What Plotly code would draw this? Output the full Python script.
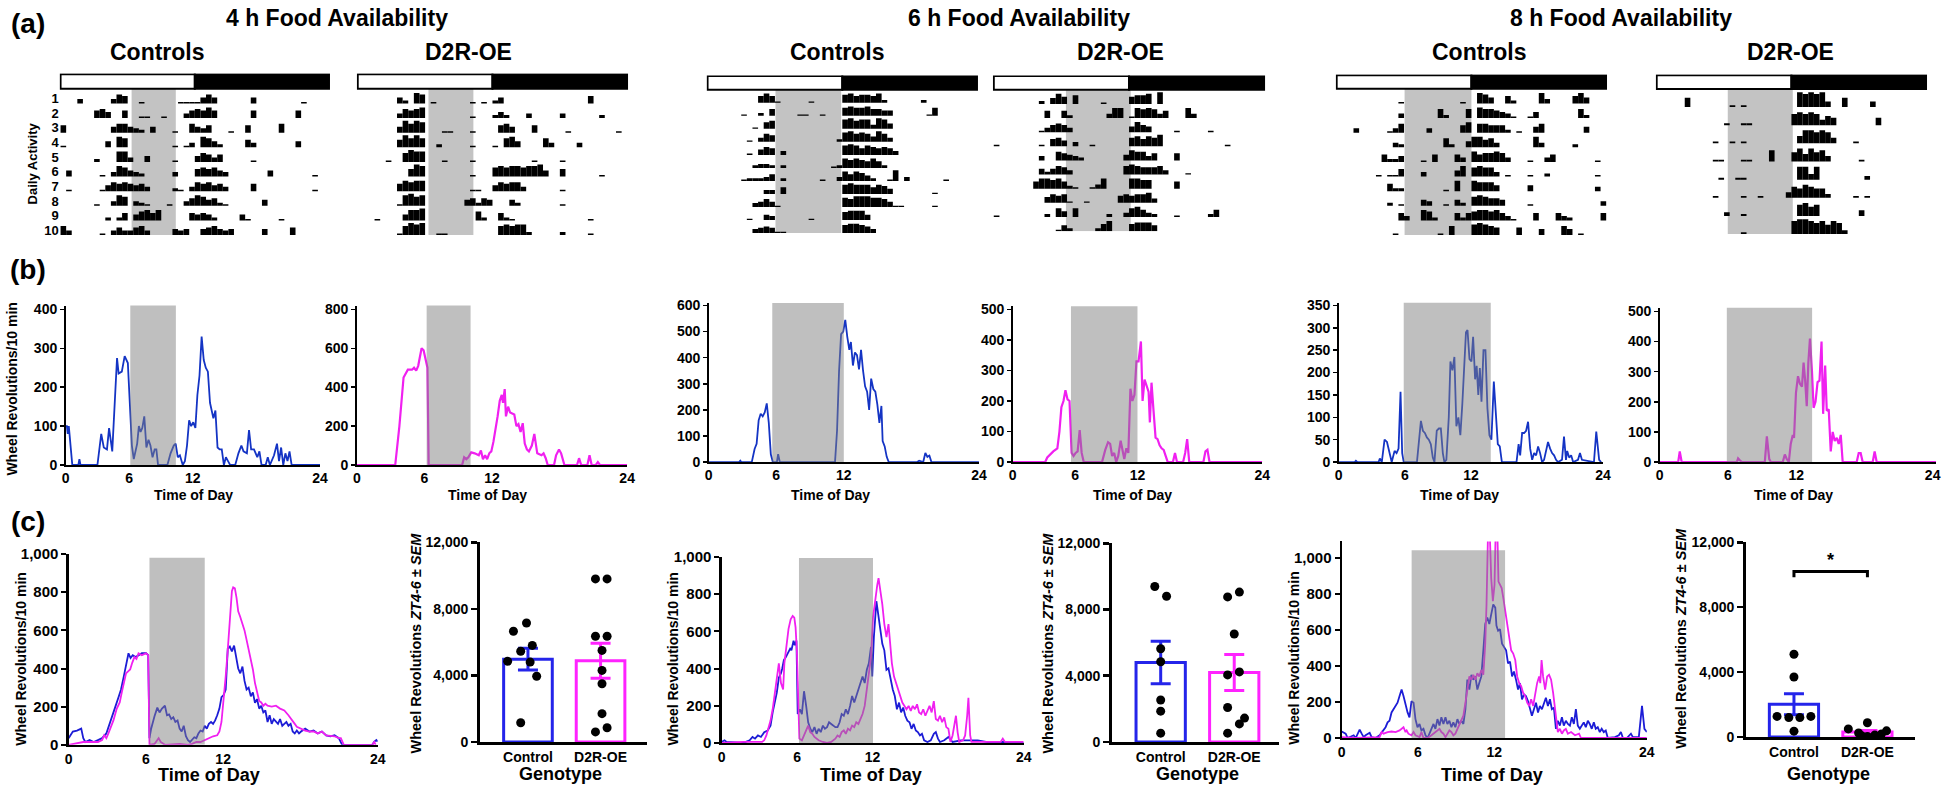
import math
import statistics
import plotly.graph_objects as go

# ======================= DATA =======================
# (a) actograms: one dict per day, {half-hour bin (0-47): activity level 1-9}
ACTO_4H_CTRL = [
    {3: 3, 9: 3, 10: 6, 11: 5, 14: 1, 21: 1, 22: 1, 23: 1, 24: 1, 25: 4, 26: 6, 27: 4, 34: 4, 43: 1},
    {6: 5, 7: 6, 8: 4, 11: 5, 14: 1, 15: 1, 18: 1, 22: 3, 23: 5, 24: 6, 25: 5, 26: 7, 27: 5, 34: 5, 42: 5},
    {0: 5, 9: 4, 10: 6, 11: 6, 12: 4, 13: 3, 14: 2, 16: 4, 20: 1, 23: 6, 24: 4, 25: 3, 26: 5, 30: 1, 33: 5, 39: 6},
    {0: 1, 8: 4, 10: 7, 11: 6, 20: 1, 22: 1, 23: 3, 25: 7, 26: 6, 27: 4, 28: 2, 33: 5, 34: 3, 42: 4},
    {6: 2, 10: 7, 11: 7, 12: 3, 15: 4, 20: 1, 24: 4, 25: 6, 26: 5, 27: 3, 28: 5, 34: 1},
    {1: 4, 7: 1, 9: 3, 10: 7, 11: 6, 12: 4, 13: 3, 14: 2, 20: 3, 24: 5, 25: 6, 26: 5, 27: 6, 28: 4, 29: 3, 37: 4, 45: 1},
    {1: 1, 7: 1, 8: 4, 9: 6, 10: 5, 11: 6, 12: 5, 13: 4, 14: 5, 15: 3, 20: 2, 21: 1, 23: 3, 24: 6, 25: 5, 26: 6,
     27: 4, 28: 5, 29: 3, 34: 5, 45: 1},
    {6: 1, 9: 3, 10: 7, 11: 6, 13: 3, 14: 2, 15: 1, 19: 1, 22: 3, 23: 5, 24: 7, 25: 6, 26: 4, 27: 5, 28: 2, 29: 1, 36: 4},
    {8: 2, 10: 2, 11: 5, 13: 4, 14: 6, 15: 7, 16: 5, 17: 7, 23: 5, 24: 4, 25: 5, 26: 4, 27: 2, 32: 4, 33: 1, 39: 1},
    {0: 6, 1: 3, 7: 1, 9: 3, 10: 5, 11: 3, 12: 3, 13: 5, 14: 6, 15: 3, 20: 4, 21: 3, 22: 4, 25: 4, 26: 5, 27: 6,
     28: 4, 29: 3, 30: 4, 36: 4, 41: 5},
]
ACTO_4H_D2R = [
    {7: 4, 8: 2, 10: 7, 11: 6, 13: 1, 20: 1, 22: 1, 24: 2, 25: 4, 41: 5},
    {7: 3, 8: 6, 9: 5, 10: 6, 11: 7, 20: 1, 24: 2, 25: 4, 26: 2, 30: 3, 36: 3, 43: 2},
    {7: 4, 8: 8, 9: 6, 10: 8, 11: 7, 15: 1, 16: 1, 20: 1, 25: 5, 26: 6, 27: 4, 31: 5, 37: 1, 46: 1},
    {7: 5, 8: 8, 9: 6, 10: 8, 11: 6, 14: 2, 20: 1, 24: 1, 26: 6, 27: 7, 28: 4, 33: 6, 34: 3, 39: 3},
    {5: 1, 8: 6, 9: 8, 10: 7, 11: 7, 15: 1, 20: 1, 31: 1, 36: 1},
    {9: 5, 10: 8, 11: 7, 20: 1, 24: 6, 25: 7, 26: 6, 27: 7, 28: 7, 29: 6, 30: 7, 31: 7, 32: 8, 33: 4, 36: 5, 43: 1},
    {7: 5, 8: 7, 9: 6, 10: 7, 11: 7, 20: 1, 21: 1, 24: 4, 25: 6, 26: 5, 27: 6, 28: 6, 29: 3, 36: 1},
    {7: 1, 8: 7, 9: 8, 10: 6, 11: 7, 19: 4, 20: 5, 21: 2, 22: 5, 23: 4, 27: 4, 28: 2, 36: 1},
    {3: 1, 8: 4, 9: 7, 10: 7, 11: 8, 21: 6, 22: 2, 25: 5, 26: 2, 27: 1, 41: 1},
    {7: 1, 8: 6, 9: 8, 10: 7, 11: 8, 14: 1, 15: 1, 25: 6, 26: 7, 27: 6, 28: 7, 29: 7, 30: 2, 36: 2, 41: 1},
]
ACTO_6H_CTRL = [
    {9: 5, 10: 7, 11: 5, 12: 1, 18: 1, 24: 6, 25: 7, 26: 5, 27: 6, 28: 6, 29: 5, 30: 7, 31: 2, 38: 2},
    {6: 1, 9: 2, 11: 5, 16: 1, 17: 1, 20: 1, 24: 6, 25: 7, 26: 6, 27: 6, 28: 7, 29: 5, 30: 5, 31: 4, 32: 4, 39: 1, 40: 6},
    {8: 1, 10: 5, 11: 6, 24: 7, 25: 8, 26: 6, 27: 7, 28: 7, 29: 3, 30: 8, 31: 7, 32: 4},
    {7: 1, 9: 3, 10: 6, 11: 5, 23: 2, 24: 7, 25: 8, 26: 6, 27: 7, 28: 6, 29: 4, 30: 8, 31: 6, 32: 3},
    {7: 1, 9: 4, 10: 6, 11: 5, 13: 3, 24: 7, 25: 8, 26: 7, 27: 5, 28: 7, 29: 6, 30: 5, 31: 6, 32: 5, 33: 3},
    {8: 2, 9: 3, 10: 3, 11: 2, 13: 2, 22: 1, 23: 2, 24: 7, 25: 6, 26: 7, 27: 6, 28: 5, 29: 7, 30: 5, 31: 2},
    {6: 1, 7: 2, 8: 2, 9: 2, 10: 3, 11: 5, 13: 2, 20: 1, 23: 3, 24: 7, 25: 5, 26: 7, 27: 6, 28: 4, 29: 2, 32: 1,
     33: 8, 35: 3, 42: 1},
    {10: 3, 11: 3, 13: 5, 24: 7, 25: 8, 26: 7, 27: 7, 28: 7, 29: 5, 30: 7, 31: 6, 32: 4, 40: 1},
    {8: 3, 9: 4, 10: 6, 11: 4, 12: 1, 24: 7, 25: 6, 26: 8, 27: 8, 28: 8, 29: 7, 30: 7, 31: 6, 32: 4, 33: 1, 34: 1, 40: 1},
    {7: 1, 10: 4, 11: 3, 18: 1, 24: 6, 25: 7, 26: 7, 27: 7, 28: 4},
    {8: 3, 9: 4, 10: 5, 11: 4, 12: 1, 13: 1, 24: 6, 25: 7, 26: 7, 27: 6, 28: 5, 29: 3},
]
ACTO_6H_D2R = [
    {8: 2, 10: 4, 11: 7, 12: 5, 14: 6, 19: 1, 24: 5, 25: 6, 26: 6, 27: 7, 29: 8},
    {9: 5, 12: 5, 13: 2, 20: 3, 21: 7, 22: 7, 24: 1, 25: 7, 26: 6, 27: 7, 28: 6, 29: 3, 30: 5, 34: 7, 35: 3},
    {8: 1, 9: 3, 10: 5, 11: 6, 12: 5, 13: 3, 24: 4, 25: 7, 26: 5, 27: 4, 32: 1, 38: 1},
    {0: 1, 8: 1, 10: 5, 11: 6, 12: 4, 14: 3, 17: 1, 24: 6, 25: 7, 26: 5, 27: 7, 28: 6, 29: 8, 41: 1},
    {8: 3, 11: 6, 12: 5, 13: 4, 14: 3, 15: 2, 23: 4, 24: 7, 25: 6, 26: 6, 27: 3, 28: 5, 32: 5},
    {8: 4, 9: 2, 10: 4, 11: 6, 12: 5, 13: 3, 23: 6, 24: 7, 25: 6, 26: 5, 27: 5, 28: 5, 29: 6, 30: 3, 34: 1},
    {7: 5, 8: 7, 9: 7, 10: 6, 11: 7, 12: 5, 13: 2, 14: 1, 17: 1, 18: 3, 19: 7, 24: 7, 25: 7, 26: 6, 27: 6, 32: 5},
    {9: 4, 10: 6, 11: 5, 12: 6, 13: 1, 16: 1, 22: 5, 23: 6, 24: 5, 25: 6, 26: 6, 27: 7, 28: 3},
    {0: 1, 9: 2, 11: 6, 12: 4, 14: 6, 20: 2, 23: 3, 24: 6, 25: 7, 26: 5, 27: 3, 28: 2, 32: 1, 38: 2, 39: 5},
    {11: 1, 12: 4, 13: 2, 18: 2, 19: 5, 20: 7, 24: 5, 25: 6, 26: 6, 27: 6, 28: 4},
]
ACTO_8H_CTRL = [
    {11: 1, 22: 1, 25: 7, 26: 6, 27: 4, 30: 5, 31: 2, 36: 7, 37: 3, 42: 5, 43: 7, 44: 4},
    {11: 3, 18: 6, 19: 2, 23: 6, 25: 7, 26: 6, 27: 6, 28: 5, 29: 4, 30: 3, 31: 1, 34: 1, 35: 4, 43: 6, 44: 2},
    {3: 3, 9: 1, 10: 3, 11: 6, 16: 3, 22: 5, 23: 7, 25: 6, 26: 6, 27: 5, 28: 5, 29: 5, 30: 2, 32: 1, 35: 4, 36: 6, 44: 4},
    {10: 3, 11: 2, 19: 6, 20: 2, 23: 4, 24: 7, 25: 7, 26: 5, 27: 6, 28: 3, 35: 7, 36: 3, 42: 2},
    {8: 5, 9: 2, 10: 2, 11: 4, 15: 1, 17: 5, 21: 5, 22: 3, 24: 7, 25: 5, 26: 6, 27: 6, 28: 7, 29: 6, 30: 3, 34: 1,
     37: 3, 38: 5, 46: 1},
    {7: 1, 9: 1, 10: 1, 11: 5, 15: 3, 21: 4, 22: 7, 24: 6, 25: 7, 26: 6, 27: 6, 28: 3, 30: 1, 34: 1, 37: 2, 46: 1},
    {9: 5, 10: 2, 11: 2, 19: 1, 21: 7, 24: 7, 25: 6, 26: 6, 27: 6, 28: 4, 34: 4, 46: 3},
    {9: 2, 11: 1, 15: 4, 16: 3, 19: 1, 21: 4, 22: 2, 24: 6, 25: 7, 26: 6, 27: 5, 28: 5, 29: 4, 34: 1, 47: 3},
    {11: 5, 12: 3, 15: 7, 16: 6, 17: 2, 21: 5, 22: 2, 23: 5, 24: 6, 25: 7, 26: 7, 27: 6, 28: 7, 29: 5, 30: 3, 31: 1,
     35: 5, 39: 5, 40: 3, 41: 2, 47: 5},
    {10: 1, 18: 1, 20: 6, 24: 7, 25: 8, 26: 7, 27: 6, 28: 5, 32: 5, 36: 4, 40: 6, 41: 4, 43: 1},
]
ACTO_8H_D2R = [
    {5: 5, 13: 1, 15: 1, 25: 8, 26: 7, 27: 8, 28: 7, 29: 8, 30: 3, 33: 5, 38: 3},
    {12: 1, 15: 1, 16: 1, 24: 6, 25: 7, 26: 6, 27: 7, 28: 6, 29: 3, 30: 5, 31: 4, 39: 4},
    {10: 1, 13: 1, 15: 1, 25: 4, 26: 7, 27: 7, 28: 6, 29: 7, 30: 6, 31: 3, 35: 1},
    {10: 1, 11: 1, 15: 1, 16: 1, 20: 6, 24: 5, 25: 7, 26: 4, 27: 7, 28: 5, 29: 6, 30: 3, 36: 1},
    {11: 1, 14: 1, 15: 1, 25: 7, 26: 7, 27: 3, 28: 7, 37: 2},
    {10: 1, 15: 1, 18: 1, 23: 3, 24: 6, 25: 5, 26: 7, 27: 6, 28: 5, 29: 5, 30: 2, 35: 1, 37: 1},
    {12: 2, 15: 1, 25: 6, 26: 7, 27: 5, 28: 6, 36: 3},
    {15: 1, 24: 7, 25: 8, 26: 8, 27: 7, 28: 6, 29: 7, 30: 5, 31: 7, 32: 6, 33: 2},
]
# grey food windows (ZT hours) as drawn on each actogram
FOOD_ACTO = {"4C": (6.35, 10.3), "4D": (6.3, 10.3), "6C": (6.05, 11.9),
             "6D": (6.4, 12.15), "8C": (6.05, 12.0), "8D": (6.33, 12.12)}

# (b) representative single animals: (ZT hour, wheel revolutions / 10 min)
B4_CTRL = [(0, 100), (0.12, 100), (0.2, 80), (0.3, 100), (0.63, 0), (1.2, 0), (1.3, 15), (1.4, 0), (3.0, 0),
           (3.36, 80), (3.6, 45), (3.9, 40), (4.1, 95), (4.4, 35), (4.85, 275), (5.0, 235), (5.3, 240), (5.57, 280),
           (5.87, 262), (6.05, 150), (6.25, 50), (6.43, 15), (6.75, 55), (6.91, 100), (7.07, 85), (7.23, 95),
           (7.42, 125), (7.62, 45), (7.82, 65), (8.0, 50), (8.2, 20), (8.4, 40), (8.56, 40), (8.72, 0), (9.6, 0),
           (9.9, 30), (10.2, 50), (10.38, 55), (10.58, 20), (10.78, 25), (11.05, 0), (11.25, 10), (11.45, 50),
           (11.65, 115), (11.84, 100), (12.04, 110), (12.24, 95), (12.43, 180), (12.63, 230), (12.83, 330),
           (13.03, 270), (13.22, 250), (13.42, 240), (13.62, 160), (13.82, 135), (13.94, 120), (14.13, 140),
           (14.33, 45), (14.53, 40), (14.73, 40), (14.93, 0), (15.12, 20), (15.32, 10), (15.52, 0), (16.0, 0),
           (16.3, 30), (16.58, 50), (16.78, 35), (17.1, 30), (17.3, 90), (17.5, 40), (17.77, 40), (18.08, 20),
           (18.28, 35), (18.48, 0), (18.87, 0), (19.07, 20), (19.27, 0), (19.66, 25), (19.94, 55), (20.13, 10),
           (20.33, 45), (20.53, 0), (20.73, 30), (20.93, 10), (21.12, 35), (21.32, 0), (24, 0)]
B4_D2R = [(0, 0), (3.41, 0), (3.78, 200), (4.15, 450), (4.53, 490), (4.9, 490), (5.08, 500), (5.27, 485),
          (5.45, 510), (5.64, 560), (5.75, 600), (5.93, 590), (6.12, 540), (6.27, 500), (6.38, 0), (9.35, 0),
          (9.53, 40), (9.72, 30), (9.9, 40), (10.16, 65), (10.46, 60), (10.83, 50), (11.02, 75), (11.2, 30),
          (11.39, 50), (11.57, 30), (11.76, 60), (11.94, 70), (12.13, 120), (12.31, 180), (12.5, 250), (12.69, 330),
          (12.87, 360), (12.98, 320), (13.13, 390), (13.24, 250), (13.43, 300), (13.61, 270), (13.98, 260),
          (14.17, 200), (14.35, 210), (14.54, 170), (14.73, 215), (14.91, 110), (15.1, 80), (15.28, 70),
          (15.54, 100), (15.76, 160), (16.02, 60), (16.39, 50), (16.58, 60), (16.77, 35), (16.95, 0), (17.51, 0),
          (17.69, 50), (17.95, 80), (18.14, 60), (18.43, 0), (19.55, 0), (19.73, 35), (19.92, 0), (20.47, 0),
          (20.66, 50), (20.85, 0), (21.22, 0), (21.4, 15), (21.59, 0), (24, 0)]
B6_CTRL = [(0, 0), (2.7, 0), (2.81, 5), (2.9, 0), (3.83, 0), (4.08, 50), (4.26, 70), (4.44, 160), (4.62, 185),
           (4.8, 175), (4.98, 190), (5.16, 225), (5.34, 150), (5.52, 30), (5.7, 0), (6.06, 0), (6.17, 30), (6.32, 0),
           (11.22, 0), (11.4, 120), (11.58, 350), (11.76, 490), (11.95, 500), (12.13, 545), (12.31, 480),
           (12.49, 430), (12.63, 460), (12.81, 370), (12.99, 420), (13.17, 410), (13.35, 355), (13.53, 430),
           (13.71, 350), (13.89, 290), (14.07, 270), (14.25, 200), (14.43, 320), (14.62, 280), (14.8, 270),
           (14.98, 220), (15.16, 150), (15.34, 215), (15.45, 80), (15.63, 60), (15.81, 20), (15.99, 0), (18.51, 0),
           (18.69, 5), (19.05, 0), (19.24, 35), (19.42, 20), (19.6, 25), (19.78, 0), (24, 0)]
B6_D2R = [(0, 0), (3.12, 0), (3.32, 15), (3.59, 25), (3.9, 35), (4.29, 45), (4.49, 100), (4.68, 180), (4.88, 200),
          (5.07, 235), (5.27, 205), (5.46, 200), (5.66, 30), (5.85, 20), (6.05, 30), (6.24, 35), (6.44, 105),
          (6.63, 30), (6.83, 0), (8.59, 0), (8.9, 40), (9.17, 65), (9.37, 60), (9.56, 20), (9.76, 30), (9.95, 0),
          (10.15, 20), (10.38, 70), (10.54, 45), (10.73, 10), (10.93, 45), (11.12, 30), (11.32, 240), (11.51, 200),
          (11.71, 220), (11.9, 330), (12.1, 330), (12.33, 395), (12.49, 200), (12.68, 270), (12.88, 250),
          (13.07, 230), (13.19, 130), (13.35, 260), (13.54, 170), (13.74, 80), (13.93, 75), (14.13, 55),
          (14.32, 45), (14.52, 40), (14.71, 20), (14.91, 0), (15.41, 0), (15.61, 30), (15.8, 0), (16.39, 0),
          (16.59, 30), (16.78, 75), (16.98, 0), (18.34, 0), (18.54, 35), (18.73, 40), (18.93, 0), (24, 0)]
B8_CTRL = [(0, 0), (1.45, 0), (1.56, 3), (1.7, 0), (3.62, 0), (3.73, 8), (3.91, 0), (4.16, 50), (4.38, 45),
           (4.63, 20), (4.81, 0), (5.07, 25), (5.25, 20), (5.43, 30), (5.61, 157), (5.76, 20), (5.9, 0), (7.1, 0),
           (7.28, 50), (7.46, 92), (7.64, 70), (7.82, 65), (8.0, 55), (8.18, 50), (8.36, 40), (8.54, 10), (8.69, 0),
           (8.9, 70), (9.09, 75), (9.27, 75), (9.45, 20), (9.59, 0), (9.77, 5), (9.99, 100), (10.14, 225),
           (10.32, 205), (10.5, 235), (10.68, 80), (10.86, 100), (11.04, 60), (11.22, 130), (11.4, 230),
           (11.55, 290), (11.69, 295), (11.87, 230), (12.05, 225), (12.2, 280), (12.38, 185), (12.52, 215),
           (12.67, 150), (12.81, 210), (12.96, 135), (13.14, 250), (13.32, 250), (13.5, 120), (13.68, 60),
           (13.86, 50), (14.08, 180), (14.26, 100), (14.44, 40), (14.62, 35), (14.81, 0), (16.14, 0), (16.33, 40),
           (16.47, 15), (16.65, 65), (16.83, 65), (17.01, 70), (17.19, 90), (17.38, 30), (17.56, 5), (17.74, 20),
           (17.92, 15), (18.1, 35), (18.28, 20), (18.46, 0), (18.64, 5), (19.0, 45), (19.19, 30), (19.37, 20),
           (19.55, 15), (19.73, 5), (19.91, 0), (20.27, 5), (20.45, 57), (20.63, 5), (20.74, 25), (20.92, 10),
           (21.1, 15), (21.28, 0), (21.72, 5), (21.9, 20), (22.08, 5), (23.17, 0), (23.38, 68), (23.64, 5),
           (23.82, 0)]
B8_D2R = [(0, 0), (1.62, 0), (1.76, 35), (1.93, 0), (6.78, 0), (6.89, 12), (7.06, 5), (7.24, 0), (9.24, 0),
          (9.42, 85), (9.63, 10), (9.77, 0), (10.82, 0), (11.0, 25), (11.17, 10), (11.35, 0), (11.52, 60),
          (11.7, 90), (11.81, 80), (11.98, 230), (12.16, 285), (12.33, 260), (12.51, 250), (12.65, 330),
          (12.79, 270), (12.93, 185), (13.07, 330), (13.21, 410), (13.39, 300), (13.53, 180), (13.7, 200),
          (13.88, 265), (14.05, 270), (14.23, 400), (14.37, 160), (14.55, 320), (14.69, 170), (14.86, 175),
          (15.04, 35), (15.21, 100), (15.39, 70), (15.57, 80), (15.74, 60), (15.92, 90), (16.09, 0), (17.32, 0),
          (17.5, 30), (17.67, 30), (17.85, 0), (18.73, 0), (18.9, 35), (19.08, 0), (24.3, 0)]
FOOD_B = {"4C": (6.1, 10.4), "4D": (6.2, 10.1), "6C": (5.65, 12.0), "6D": (5.6, 12.0),
          "8C": (5.9, 13.8), "8D": (5.9, 13.4)}

# (c) group mean profiles: (ZT hour, wheel revolutions / 10 min)
C4_CTRL = [(0, 35), (0.33, 70), (0.65, 75), (0.98, 85), (1.14, 35), (1.3, 15), (1.63, 25), (1.95, 15), (2.28, 25),
           (2.6, 35), (2.93, 60), (3.25, 120), (3.58, 190), (3.9, 255), (4.07, 290), (4.29, 360), (4.46, 420),
           (4.65, 480), (4.81, 455), (4.98, 470), (5.2, 460), (5.43, 470), (5.69, 480), (6.02, 480), (6.18, 470),
           (6.28, 35), (6.41, 85), (6.67, 150), (6.89, 195), (7.06, 170), (7.25, 190), (7.48, 205), (7.64, 155),
           (7.8, 160), (7.97, 135), (8.13, 145), (8.29, 120), (8.46, 128), (8.62, 85), (8.78, 70), (8.94, 100),
           (9.11, 45), (9.27, 25), (9.43, 15), (9.59, 25), (9.76, 40), (9.92, 35), (10.08, 60), (10.24, 75),
           (10.41, 70), (10.57, 100), (10.73, 85), (10.89, 110), (11.06, 120), (11.22, 110), (11.38, 128),
           (11.54, 155), (11.71, 190), (11.87, 250), (12.03, 260), (12.2, 290), (12.36, 505), (12.52, 515),
           (12.68, 490), (12.85, 520), (13.01, 460), (13.17, 400), (13.33, 375), (13.5, 410), (13.66, 335),
           (13.82, 290), (13.98, 300), (14.15, 255), (14.31, 275), (14.47, 220), (14.63, 240), (14.8, 190),
           (14.96, 205), (15.12, 170), (15.28, 180), (15.45, 120), (15.61, 155), (15.77, 110), (15.93, 135),
           (16.1, 120), (16.26, 110), (16.42, 135), (16.59, 100), (16.75, 110), (16.91, 120), (17.07, 100),
           (17.24, 110), (17.4, 70), (17.56, 60), (17.72, 75), (17.89, 60), (18.05, 70), (18.37, 85), (18.7, 70),
           (19.02, 75), (19.35, 60), (19.67, 70), (20.0, 50), (20.33, 45), (20.65, 50), (20.98, 35), (21.24, 0),
           (23.58, 0), (23.74, 17), (23.9, 25), (24.0, 17)]
C4_D2R = [(0, 0), (1.14, 15), (2.28, 15), (2.6, 25), (2.76, 50), (2.93, 35), (3.09, 60), (3.25, 85), (3.48, 128),
          (3.74, 190), (3.97, 222), (4.13, 275), (4.29, 325), (4.46, 375), (4.62, 385), (4.78, 395), (4.94, 430),
          (5.11, 460), (5.27, 450), (5.43, 480), (5.69, 470), (6.02, 480), (6.18, 470), (6.28, 0), (6.67, 5),
          (6.99, 35), (7.15, 15), (7.48, 0), (8.62, 5), (9.27, 0), (9.59, 5), (9.92, 15), (10.24, 15), (10.57, 25),
          (10.89, 35), (11.22, 45), (11.54, 50), (11.71, 70), (11.87, 120), (12.03, 220), (12.2, 360), (12.36, 500),
          (12.52, 670), (12.68, 805), (12.78, 825), (12.91, 820), (13.04, 770), (13.17, 700), (13.33, 670),
          (13.5, 635), (13.66, 600), (13.82, 550), (13.98, 500), (14.15, 445), (14.31, 395), (14.47, 325),
          (14.63, 275), (14.8, 230), (14.96, 222), (15.12, 205), (15.28, 215), (15.45, 205), (15.77, 200),
          (16.1, 205), (16.42, 190), (16.75, 180), (17.07, 155), (17.4, 120), (17.56, 110), (17.72, 95),
          (18.05, 85), (18.37, 75), (18.7, 70), (19.02, 70), (19.35, 60), (19.67, 70), (20.0, 50), (20.33, 48),
          (20.65, 45), (20.98, 35), (21.14, 35), (21.37, 0), (23.58, 0), (23.74, 15), (23.84, 0)]
C6_CTRL = [(0, 5), (0.23, 14), (0.4, 5), (1.73, 0), (2.23, 14), (2.46, 32), (2.66, 23), (2.89, 40), (3.13, 32),
           (3.39, 58), (3.66, 67), (3.89, 93), (4.06, 164), (4.22, 217), (4.39, 270), (4.55, 350), (4.72, 375),
           (4.82, 400), (4.95, 445), (5.12, 463), (5.29, 490), (5.45, 507), (5.55, 498), (5.72, 550), (5.82, 525),
           (5.95, 550), (6.05, 155), (6.22, 181), (6.38, 155), (6.55, 278), (6.72, 199), (6.88, 111), (7.05, 76),
           (7.21, 58), (7.38, 85), (7.55, 49), (7.71, 76), (7.88, 58), (8.05, 93), (8.21, 76), (8.38, 85),
           (8.54, 111), (8.71, 102), (8.88, 93), (9.04, 85), (9.21, 85), (9.38, 111), (9.54, 155), (9.71, 146),
           (9.87, 181), (10.04, 155), (10.21, 199), (10.37, 252), (10.54, 217), (10.7, 252), (10.87, 287),
           (11.04, 331), (11.2, 357), (11.37, 322), (11.54, 393), (11.7, 428), (11.87, 516), (11.97, 357),
           (12.1, 569), (12.3, 762), (12.43, 692), (12.6, 621), (12.77, 533), (12.93, 498), (13.1, 393),
           (13.26, 401), (13.43, 340), (13.6, 287), (13.76, 252), (13.93, 181), (14.1, 217), (14.26, 164),
           (14.43, 190), (14.59, 146), (14.76, 120), (14.93, 111), (15.09, 76), (15.26, 102), (15.43, 67),
           (15.59, 58), (15.76, 40), (15.92, 49), (16.09, 14), (16.36, 5), (16.62, 14), (16.86, 49), (17.02, 58),
           (17.19, 23), (17.35, 5), (17.69, 14), (18.02, 32), (18.35, 5), (19.02, 14), (19.68, 14), (20.35, 14),
           (21.01, 5), (21.68, 0), (22.34, 5), (24.0, 0)]
C6_D2R = [(0, 0), (1.73, 5), (3.22, 5), (3.39, 14), (3.56, 40), (3.72, 76), (3.89, 120), (4.06, 181), (4.22, 270),
          (4.39, 357), (4.55, 428), (4.72, 322), (4.89, 287), (4.99, 428), (5.15, 533), (5.32, 613), (5.49, 665),
          (5.65, 683), (5.78, 674), (5.88, 621), (5.98, 498), (6.08, 181), (6.18, 23), (6.38, 14), (6.55, 40),
          (6.72, 67), (6.88, 93), (7.05, 58), (7.21, 49), (7.38, 32), (7.55, 23), (7.71, 14), (8.05, 5),
          (8.38, 0), (8.71, 5), (9.04, 23), (9.21, 40), (9.38, 32), (9.54, 58), (9.71, 67), (9.87, 49),
          (10.04, 76), (10.21, 67), (10.37, 93), (10.54, 85), (10.7, 111), (10.87, 102), (11.04, 128),
          (11.2, 155), (11.37, 199), (11.54, 287), (11.7, 393), (11.87, 463), (12.03, 674), (12.2, 771),
          (12.37, 850), (12.47, 886), (12.6, 833), (12.77, 745), (12.93, 639), (13.1, 569), (13.26, 639),
          (13.36, 569), (13.53, 428), (13.7, 357), (13.86, 322), (14.03, 287), (14.2, 252), (14.36, 217),
          (14.53, 199), (14.69, 181), (14.86, 199), (15.03, 172), (15.19, 199), (15.36, 181), (15.53, 208),
          (15.69, 164), (15.86, 155), (16.02, 181), (16.19, 146), (16.36, 172), (16.52, 199), (16.69, 164),
          (16.86, 225), (17.02, 128), (17.19, 120), (17.35, 146), (17.52, 111), (17.69, 137), (17.85, 85),
          (18.02, 76), (18.18, 5), (18.35, 40), (18.52, 111), (18.62, 146), (18.75, 58), (18.88, 5),
          (19.18, 14), (19.35, 40), (19.51, 146), (19.61, 243), (19.75, 40), (19.85, 5), (21.01, 5),
          (22.17, 5), (22.34, 23), (22.51, 5), (24.0, 5)]
C8_CTRL = [(0, 36), (0.31, 24), (0.47, 0), (0.94, 15), (1.1, 0), (1.41, 47), (1.57, 24), (1.73, 5), (1.88, 15),
           (2.04, 24), (2.2, 29), (2.35, 5), (2.67, 0), (2.98, 15), (3.29, 42), (3.45, 60), (3.61, 87), (3.76, 96),
           (3.92, 142), (4.08, 160), (4.24, 178), (4.39, 196), (4.55, 233), (4.71, 269), (4.86, 233), (5.02, 178),
           (5.18, 142), (5.33, 115), (5.49, 205), (5.65, 196), (5.8, 105), (5.96, 60), (6.12, 78), (6.27, 42),
           (6.43, 51), (6.59, 15), (6.75, 0), (6.9, 24), (7.06, 51), (7.22, 78), (7.37, 51), (7.53, 105),
           (7.69, 69), (7.84, 115), (8.0, 78), (8.16, 115), (8.31, 78), (8.47, 96), (8.63, 60), (8.78, 87),
           (8.94, 60), (9.1, 105), (9.25, 78), (9.41, 96), (9.57, 78), (9.73, 160), (9.88, 324), (10.04, 269),
           (10.2, 351), (10.35, 324), (10.51, 342), (10.67, 269), (10.82, 305), (10.98, 342), (11.14, 487),
           (11.29, 633), (11.45, 669), (11.61, 633), (11.76, 687), (11.92, 742), (12.08, 724), (12.17, 624),
           (12.3, 596), (12.45, 605), (12.61, 524), (12.77, 505), (12.93, 487), (13.08, 415), (13.24, 424),
           (13.4, 342), (13.55, 369), (13.71, 324), (13.87, 269), (14.02, 305), (14.18, 215), (14.34, 242),
           (14.49, 233), (14.65, 205), (14.81, 160), (14.96, 124), (15.12, 160), (15.28, 196), (15.44, 142),
           (15.59, 178), (15.75, 160), (15.91, 196), (16.06, 224), (16.22, 178), (16.38, 215), (16.53, 160),
           (16.69, 169), (16.85, 51), (17.0, 96), (17.16, 69), (17.32, 115), (17.47, 69), (17.63, 96), (17.79, 78),
           (17.95, 69), (18.1, 115), (18.26, 78), (18.42, 160), (18.57, 69), (18.73, 51), (18.89, 69), (19.04, 87),
           (19.2, 60), (19.36, 96), (19.51, 78), (19.67, 51), (19.83, 87), (19.98, 51), (20.14, 60), (20.3, 33),
           (20.45, 51), (20.61, 33), (20.77, 42), (20.93, 0), (21.49, 5), (21.8, 15), (21.96, 33), (22.12, 0),
           (22.43, 0), (22.75, 24), (22.9, 5), (23.37, 5), (23.62, 178), (23.81, 51), (24.0, 33)]
C8_D2R = [(0, 5), (1.1, 0), (2.98, 5), (3.14, 33), (3.29, 24), (3.61, 33), (3.92, 36), (4.24, 33), (4.55, 42),
          (4.71, 51), (4.86, 60), (5.02, 33), (5.11, 42), (5.24, 24), (5.49, 15), (5.65, 33), (5.8, 15), (6.12, 5),
          (6.27, 33), (6.43, 0), (6.75, 0), (7.06, 15), (7.37, 33), (7.53, 42), (7.69, 51), (7.84, 33), (8.0, 24),
          (8.16, 5), (8.31, 24), (8.47, 42), (8.63, 33), (8.78, 15), (8.94, 24), (9.1, 51), (9.25, 69),
          (9.41, 105), (9.57, 124), (9.73, 196), (9.88, 269), (10.04, 342), (10.2, 324), (10.35, 351),
          (10.51, 324), (10.67, 360), (10.82, 342), (10.98, 378), (11.14, 351), (11.29, 524), (11.39, 742),
          (11.51, 1150), (11.64, 1150), (11.76, 887), (11.89, 760), (12.02, 851), (12.11, 1150), (12.24, 1150),
          (12.33, 869), (12.45, 851), (12.58, 833), (12.71, 778), (12.86, 705), (13.02, 633), (13.18, 560),
          (13.33, 487), (13.49, 469), (13.65, 433), (13.8, 342), (13.96, 305), (14.12, 287), (14.27, 251),
          (14.43, 233), (14.59, 196), (14.75, 178), (14.9, 215), (15.06, 178), (15.22, 251), (15.37, 305),
          (15.53, 342), (15.62, 305), (15.72, 433), (15.84, 342), (16.0, 269), (16.16, 342), (16.31, 351),
          (16.47, 324), (16.63, 251), (16.78, 160), (16.88, 87), (17.0, 33), (17.16, 51), (17.32, 24),
          (17.47, 42), (17.63, 51), (17.79, 24), (18.04, 33), (18.35, 15), (18.67, 24), (18.82, 0), (24.0, 0)]
FOOD_C = {"4": (6.28, 10.57), "6": (6.15, 12.03), "8": (5.5, 12.85)}
GRAY_TOP_C = {"4": 980, "6": 995, "8": 1043}

# (c) bar charts: individual animals (ZT4-6 wheel revolutions) and horizontal jitter
GENOTYPES = ["Control", "D2R-OE"]
BAR4_CTRL = [7150, 6650, 5800, 5450, 4850, 4800, 3950, 1150]
BAR4_CTRL_J = [-0.02, -0.2, 0.06, -0.1, -0.28, 0.03, 0.12, -0.1]
BAR4_D2R = [9800, 9800, 6350, 6350, 5500, 4300, 3500, 1700, 850, 600]
BAR4_D2R_J = [-0.07, 0.09, -0.07, 0.09, 0.02, 0.02, 0.02, 0.02, 0.09, -0.07]
BAR6_CTRL = [9390, 8800, 5630, 4840, 2530, 1860, 530]
BAR6_CTRL_J = [-0.08, 0.08, 0.0, 0.0, 0.0, 0.0, 0.0]
BAR6_D2R = [9050, 8760, 6520, 4230, 4050, 2080, 1440, 1090, 530]
BAR6_D2R_J = [0.07, -0.09, 0.0, 0.07, -0.09, -0.09, 0.14, 0.07, -0.09]
BAR8_CTRL = [5100, 3700, 1270, 1200, 1200, 1270, 360]
BAR8_CTRL_J = [0.0, 0.0, -0.23, -0.07, 0.08, 0.23, 0.0]
BAR8_D2R = [500, 250, 880, 120, 180, 380, 30, 80]
BAR8_D2R_J = [-0.26, -0.12, 0.0, 0.1, 0.19, 0.26, 0.0, -0.08]
SIG_8H = (9850, 10200)   # significance bracket (foot, top)

TIME_TICKS = [0, 6, 12, 24]
BAR_TICKS = [0, 4000, 8000, 12000]

# ======================= FIGURE =======================
W, H = 1950, 792
FONT = "Liberation Sans, Arial, Helvetica, sans-serif"
BLUE_B = "#1434c4"
BLUE_C = "#1c1cd6"
MAG = "#f020f0"
BAR_BLUE = "#2424ea"
BAR_MAG = "#ff22ff"
GRAY_OVER = "rgba(128,128,128,0.5)"
DA = -6   # vertical nudge for row (a)
DC = 2    # vertical nudge for row (c)

fig = go.Figure()
layout = {}
shapes = []
annotations = []
n_ax = [0]


def fx(px):
    return px / W


def fy(py):
    return 1 - py / H


def tf(size):
    return dict(family=FONT, size=size, color="black", weight="bold")


def add_axes(x0, x1, ytop, ybot, xopt, yopt):
    n_ax[0] += 1
    s = "" if n_ax[0] == 1 else str(n_ax[0])
    layout["xaxis" + s] = dict(domain=[fx(x0), fx(x1)], anchor="y" + s, fixedrange=True, **xopt)
    layout["yaxis" + s] = dict(domain=[fy(ybot), fy(ytop)], anchor="x" + s, fixedrange=True, **yopt)
    return "x" + s, "y" + s


def text(s, px, py, size, angle=0):
    annotations.append(dict(text="<b>" + s + "</b>", x=fx(px), y=fy(py), xref="paper", yref="paper",
                            showarrow=False, textangle=angle, font=dict(family=FONT, size=size, color="black"),
                            xanchor="center", yanchor="middle"))


def actogram(days, food, x0, x1, ldtop, rowtop, bottom, day_labels=False):
    ldtop, rowtop, bottom = ldtop + DA, rowtop + DA, bottom + DA
    n = len(days)
    top = n * (bottom - ldtop) / (bottom - rowtop)
    yopt = dict(range=[0, top + 0.04], showgrid=False, zeroline=False, showline=False)
    if day_labels:
        yopt.update(tickmode="array", tickvals=[n - i + 0.33 for i in range(1, n + 1)],
                    ticktext=[str(i) for i in range(1, n + 1)], ticks="", showticklabels=True, tickfont=tf(13))
    else:
        yopt.update(showticklabels=False, ticks="")
    xr, yr = add_axes(x0, x1, ldtop, bottom, dict(range=[-0.08, 24.08], visible=False), yopt)
    xs, hs, bs = [], [], []
    for i, day in enumerate(days, start=1):
        for b, lvl in day.items():
            xs.append(b * 0.5 + 0.25)
            hs.append(lvl / 9 * 0.92)
            bs.append(n - i)
    fig.add_trace(go.Bar(x=xs, y=hs, base=bs, width=0.5, marker=dict(color="black", line=dict(width=0)),
                         xaxis=xr, yaxis=yr, hoverinfo="skip"))
    shapes.append(dict(type="rect", xref=xr, yref=yr, x0=food[0], x1=food[1], y0=0, y1=n,
                       fillcolor="#c3c3c3", line=dict(width=0), layer="below"))
    shapes.append(dict(type="rect", xref=xr, yref=yr, x0=0, x1=12, y0=n, y1=top,
                       fillcolor="white", line=dict(color="black", width=2)))
    shapes.append(dict(type="rect", xref=xr, yref=yr, x0=12, x1=24, y0=n, y1=top,
                       fillcolor="black", line=dict(color="black", width=2)))


def profile(pairs, color, width, x0, x1, ybot, tick_top_px, tick_top, ymax, dtick, food, xmax=24):
    ytop = ybot - (ybot - tick_top_px) * ymax / tick_top
    xr, yr = add_axes(
        x0, x1, ytop, ybot,
        dict(range=[0, xmax], tickvals=TIME_TICKS, showline=True, linecolor="black", linewidth=1.6, ticks="",
             showgrid=False, zeroline=False, tickfont=tf(14)),
        dict(range=[0, ymax], dtick=dtick, tick0=0, showline=True, linecolor="black", linewidth=1.6,
             ticks="outside", ticklen=4, tickwidth=1.5, tickcolor="black", showgrid=False, zeroline=False,
             tickfont=tf(14)))
    t, v = zip(*pairs)
    fig.add_trace(go.Scatter(x=t, y=v, mode="lines", line=dict(color=color, width=width),
                             xaxis=xr, yaxis=yr, hoverinfo="skip"))
    shapes.append(dict(type="rect", xref=xr, yref=yr + " domain", x0=food[0], x1=food[1], y0=0, y1=1,
                       fillcolor=GRAY_OVER, line=dict(width=0), layer="above"))


def group_profile(ctrl, d2r, x0, x1, ybot, top_px, ymax, food, gray_top):
    ybot, top_px = ybot + DC, top_px + DC
    ytop = ybot - (ybot - top_px) * ymax / 1000
    xr, yr = add_axes(
        x0, x1, ytop, ybot,
        dict(range=[0, 24], tickvals=TIME_TICKS, showline=True, linecolor="black", linewidth=2.2, ticks="",
             showgrid=False, zeroline=False, tickfont=tf(14)),
        dict(range=[0, ymax], tickvals=[0, 200, 400, 600, 800, 1000], tickformat=",", showline=True,
             linecolor="black", linewidth=2.2, ticks="outside", ticklen=5, tickwidth=2, tickcolor="black",
             showgrid=False, zeroline=False, tickfont=tf(15)))
    for pairs, col in ((ctrl, BLUE_C), (d2r, MAG)):
        t, v = zip(*pairs)
        fig.add_trace(go.Scatter(x=t, y=v, mode="lines", line=dict(color=col, width=1.8),
                                 xaxis=xr, yaxis=yr, hoverinfo="skip"))
    shapes.append(dict(type="rect", xref=xr, yref=yr, x0=food[0], x1=food[1], y0=0, y1=gray_top,
                       fillcolor=GRAY_OVER, line=dict(width=0), layer="above"))


def bar_panel(ctrl, cj, d2r, dj, x0, x1, ytop, ybot, xrng, sig=None):
    ytop, ybot = ytop + DC, ybot + DC
    xr, yr = add_axes(
        x0, x1, ytop, ybot,
        dict(range=xrng, tickvals=[0, 1], ticktext=GENOTYPES, showline=True, linecolor="black", linewidth=3,
             ticks="", showgrid=False, zeroline=False, tickfont=tf(14)),
        dict(range=[0, 12000], tickvals=BAR_TICKS, tickformat=",", showline=True, linecolor="black",
             linewidth=3, ticks="outside", ticklen=6, tickwidth=2.5, tickcolor="black", showgrid=False,
             zeroline=False, tickfont=tf(14)))
    for k, (vals, jit, col) in enumerate(((ctrl, cj, BAR_BLUE), (d2r, dj, BAR_MAG))):
        m = statistics.mean(vals)
        sem = statistics.stdev(vals) / math.sqrt(len(vals))
        fig.add_trace(go.Bar(x=[k], y=[m], width=0.67,
                             marker=dict(color="white", line=dict(color=col, width=3)),
                             error_y=dict(type="data", array=[sem], color=col, thickness=3, width=10),
                             xaxis=xr, yaxis=yr, hoverinfo="skip"))
        fig.add_trace(go.Scatter(x=[k + j for j in jit], y=vals, mode="markers",
                                 marker=dict(color="black", size=9), xaxis=xr, yaxis=yr, hoverinfo="skip"))
    if sig:
        foot, topv = sig
        shapes.append(dict(type="path", xref=xr, yref=yr,
                           path=f"M 0,{foot} L 0,{topv} L 1,{topv} L 1,{foot}",
                           line=dict(color="black", width=3)))
        annotations.append(dict(text="<b>*</b>", x=0.5, y=topv + 700, xref=xr, yref=yr, showarrow=False,
                                font=dict(family=FONT, size=18, color="black")))


# ---------- row (a): actograms ----------
actogram(ACTO_4H_CTRL, FOOD_ACTO["4C"], 56, 328, 72, 87, 237, day_labels=True)
actogram(ACTO_4H_D2R, FOOD_ACTO["4D"], 355, 628, 72, 87, 237)
actogram(ACTO_6H_CTRL, FOOD_ACTO["6C"], 707, 980, 74, 88, 235)
actogram(ACTO_6H_D2R, FOOD_ACTO["6D"], 995, 1269, 74, 88, 233)
actogram(ACTO_8H_CTRL, FOOD_ACTO["8C"], 1340, 1613, 73, 87, 237)
actogram(ACTO_8H_D2R, FOOD_ACTO["8D"], 1662, 1935, 73, 87, 236)

# ---------- row (b): single animals ----------
profile(B4_CTRL, BLUE_B, 1.8, 62, 318, 466, 307, 400, 410, 100, FOOD_B["4C"])
profile(B4_D2R, MAG, 2.2, 355, 627, 466, 307, 800, 820, 200, FOOD_B["4D"])
profile(B6_CTRL, BLUE_B, 1.8, 709, 981, 463, 303, 600, 610, 100, FOOD_B["6C"])
profile(B6_D2R, MAG, 2.2, 1015, 1266, 463, 307, 500, 510, 100, FOOD_B["6D"])
profile(B8_CTRL, BLUE_B, 1.8, 1343, 1609, 463, 303, 350, 356, 50, FOOD_B["8C"])
profile(B8_D2R, MAG, 2.2, 1666, 1944, 463, 309, 500, 512, 100, FOOD_B["8D"], xmax=24.3)

# ---------- row (c): group profiles + bars ----------
group_profile(C4_CTRL, C4_D2R, 65, 376, 750, 555, 1000, FOOD_C["4"], GRAY_TOP_C["4"])
group_profile(C6_CTRL, C6_D2R, 722, 1026, 748, 558, 1000, FOOD_C["6"], GRAY_TOP_C["6"])
group_profile(C8_CTRL, C8_D2R, 1346, 1653, 743, 559, 1092, FOOD_C["8"], GRAY_TOP_C["8"])
bar_panel(BAR4_CTRL, BAR4_CTRL_J, BAR4_D2R, BAR4_D2R_J, 479, 647, 543, 747, [-0.66, 1.64])
bar_panel(BAR6_CTRL, BAR6_CTRL_J, BAR6_D2R, BAR6_D2R_J, 1115, 1283, 544, 747, [-0.66, 1.61])
bar_panel(BAR8_CTRL, BAR8_CTRL_J, BAR8_D2R, BAR8_D2R_J, 1753, 1923, 543, 742, [-0.65, 1.65], sig=SIG_8H)

# ---------- texts ----------
text("(a)", 24, 21 + DA, 28)
text("(b)", 24, 266, 28)
text("(c)", 24, 522 + DC, 28)
text("4 h Food Availability", 335, 15 + DA, 23)
text("6 h Food Availability", 1021, 15 + DA, 23)
text("8 h Food Availability", 1627, 15 + DA, 23)
for cx in (154, 839, 1485):
    text("Controls", cx, 50 + DA, 23)
for cx in (467, 1123, 1798):
    text("D2R-OE", cx, 50 + DA, 23)
text("Daily Activity", 29, 164 + DA, 13, -90)
text("Wheel Revolutions/10 min", 8, 388, 14, -90)
for cx in (191, 486, 832, 1135, 1465, 1801):
    text("Time of Day", cx, 497, 14)
for cx in (17, 673, 1298):
    text("Wheel Revolutions/10 min", cx, 662 + DC, 14, -90)
for cx, cy in ((415, 646), (1051, 646), (1688, 641)):
    text("Wheel Revolutions <i>ZT4-6</i> ± <i>SEM</i>", cx, cy + DC, 14.5, -90)
for cx in (206, 872, 1497):
    text("Time of Day", cx, 783, 18)
for cx in (560, 1201, 1836):
    text("Genotype", cx, 782, 18)

layout.update(width=W, height=H, margin=dict(l=0, r=0, t=0, b=0), paper_bgcolor="white",
              plot_bgcolor="white", showlegend=False, barmode="overlay", shapes=shapes,
              annotations=annotations, font=dict(family=FONT, color="black"))
fig.update_layout(**layout)
fig.write_html("out.html", config={"displayModeBar": False, "staticPlot": True},
               post_script="document.body.style.margin='0';document.body.style.padding='0';"
                           "document.body.style.overflow='hidden';")
